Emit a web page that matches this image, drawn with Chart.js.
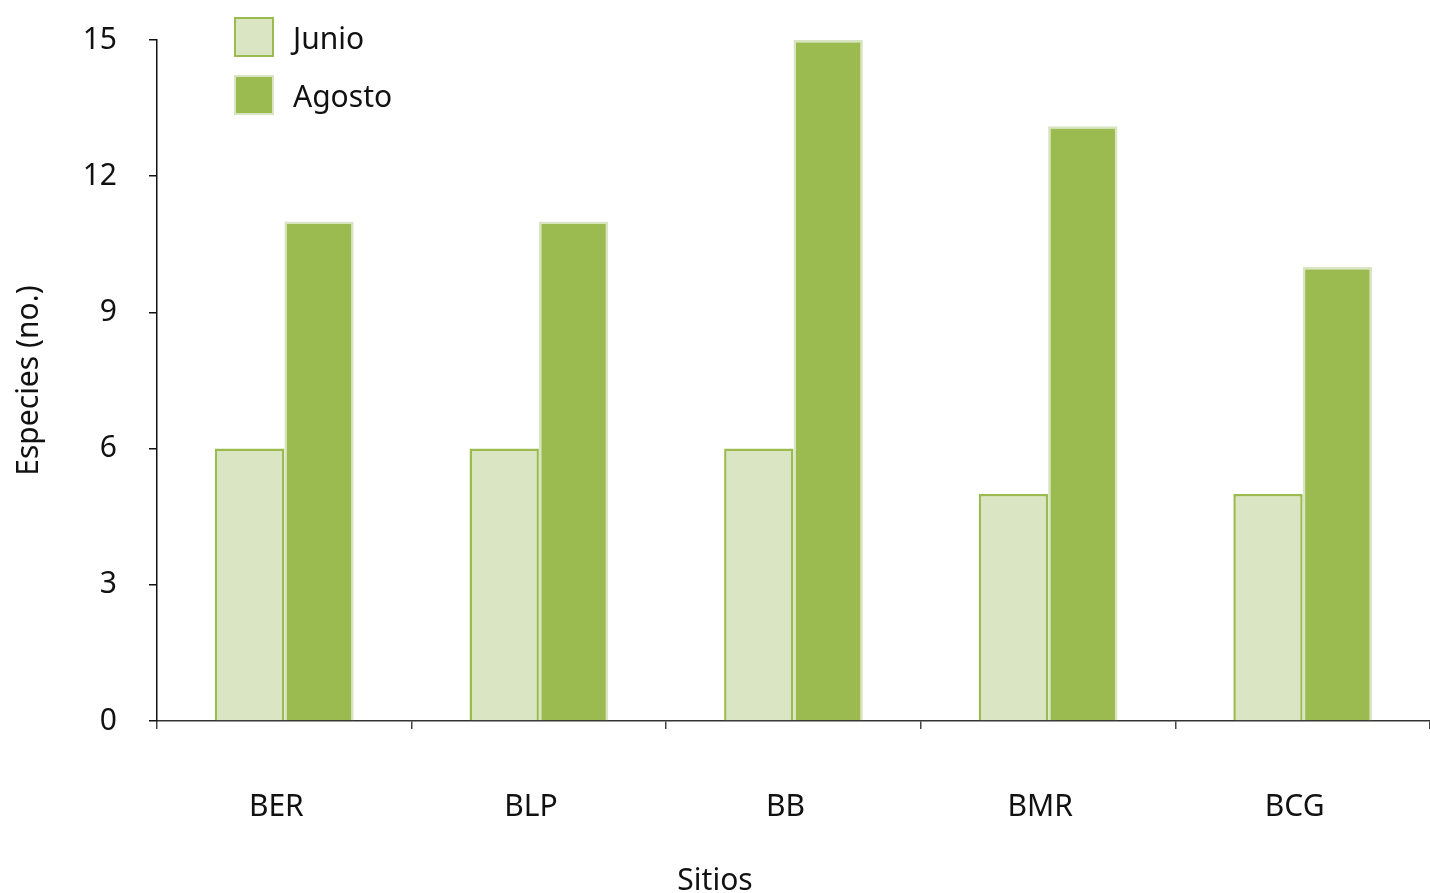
<!DOCTYPE html>
<html>
<head>
<meta charset="utf-8">
<script src="https://cdn.jsdelivr.net/npm/chart.js@4"></script>
<style>
    body { margin: 0; background: #fff; }
    #wrap { position: relative; width: 1430px; height: 893px; }
    #legend { position: absolute; left: 234px; top: 17px; font-family: "Noto Sans", sans-serif; font-size: 30px; color: #111; }
    .item { display: flex; align-items: center; height: 40px; margin-bottom: 18px; }
    .box { width: 36px; height: 36px; border: 2px solid; margin-right: 19px; }
</style>
</head>
<body>
<div id="wrap">
    <canvas id="chart"></canvas>
    <div id="legend"></div>
</div>
<script>
const sitios = ['BER', 'BLP', 'BB', 'BMR', 'BCG'];
const junio = [6, 6, 6, 5, 5];
const agosto = [11, 11, 15, 13.1, 10];
const yTicks = [0, 3, 6, 9, 12, 15];

const font = 'Noto Sans';

const datasets = [
    {
        label: 'Junio',
        data: junio,
        backgroundColor: '#dae5c3',
        borderColor: '#9bbb50',
        borderWidth: 2.5,
        barPercentage: 1,
        categoryPercentage: 0.545,
    },
    {
        label: 'Agosto',
        data: agosto,
        backgroundColor: '#9bbb50',
        borderColor: '#d9e5c2',
        borderWidth: 2.5,
        barPercentage: 1,
        categoryPercentage: 0.545,
    }
];

const ctx = document.getElementById('chart').getContext('2d');
const chart = new Chart(ctx, {
    type: 'bar',
    data: {
        labels: sitios,
        datasets: datasets
    },
    options: {
        responsive: true,
        maintainAspectRatio: false,
        animation: false,
        layout: {
            padding: { top: 40, right: 0, left: 0, bottom: 0 }
        },
        scales: {
            x: {
                afterFit: (scale) => { scale.height = 148; },
                grid: {
                    display: true,
                    drawOnChartArea: false,
                    drawTicks: true,
                    tickLength: 8,
                    color: '#444',
                    lineWidth: 1.5
                },
                border: { display: true, color: '#333', width: 1.5 },
                ticks: {
                    color: '#111',
                    padding: 63,
                    labelOffset: -8,
                    font: { family: font, size: 30, lineHeight: 1 }
                }
            },
            y: {
                min: 0,
                max: 15,
                afterFit: (scale) => {
                    scale.width = 157;
                    // tick padding would otherwise push the plot top down
                    scale.paddingTop = 0;
                    scale.paddingBottom = 0;
                },
                afterBuildTicks: (scale) => { scale.ticks = yTicks.map(v => ({ value: v })); },
                grid: {
                    display: true,
                    drawOnChartArea: false,
                    drawTicks: true,
                    tickLength: 8,
                    color: '#111',
                    lineWidth: 1.5
                },
                border: { display: true, color: '#111', width: 1.5 },
                ticks: {
                    color: '#111',
                    padding: 32,
                    font: { family: font, size: 30, lineHeight: 1 }
                },
                title: {
                    display: true,
                    text: 'Especies (no.)',
                    color: '#111',
                    padding: { top: 14, bottom: 0 },
                    font: { family: font, size: 30, lineHeight: 1 }
                }
            }
        },
        plugins: {
            legend: { display: false },
            tooltip: { enabled: false },
            title: {
                display: true,
                position: 'bottom',
                text: 'Sitios',
                color: '#111',
                padding: 0,
                font: { family: font, size: 30, lineHeight: 0.8, weight: 'normal' }
            }
        }
    }
});

// legend as html, built from the datasets
const legendEl = document.getElementById('legend');
datasets.forEach(ds => {
    const item = document.createElement('div');
    item.className = 'item';
    const box = document.createElement('div');
    box.className = 'box';
    box.style.background = ds.backgroundColor;
    box.style.borderColor = ds.borderColor;
    const txt = document.createElement('span');
    txt.textContent = ds.label;
    item.appendChild(box);
    item.appendChild(txt);
    legendEl.appendChild(item);
});
</script>
</body>
</html>
